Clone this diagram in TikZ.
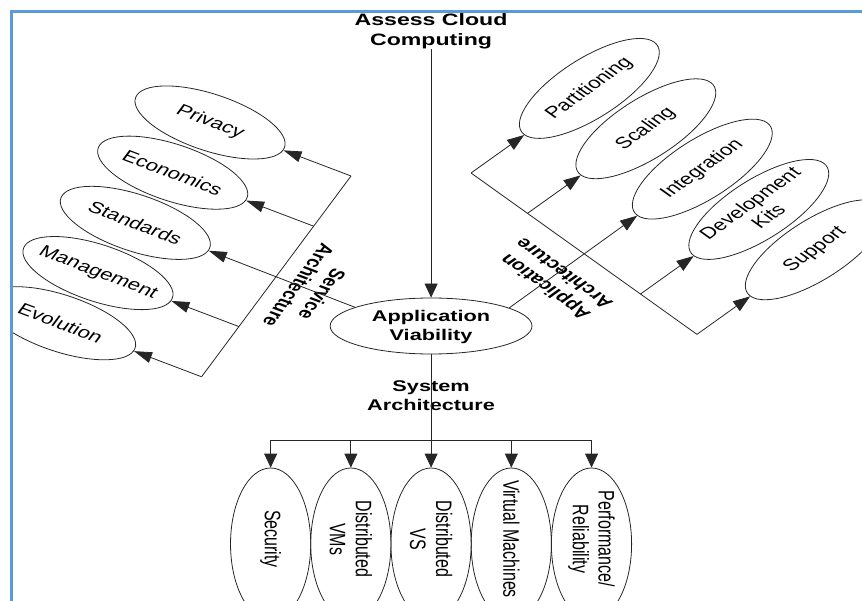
\documentclass[tikz,border=0pt]{standalone}
\usepackage{fontspec}
\setmainfont{Liberation Sans}
\usetikzlibrary{arrows.meta,shapes.geometric}
\definecolor{frameblue}{RGB}{91,155,213}
\begin{document}
\begin{tikzpicture}[x=1pt,y=1pt,xscale=1.4,
  every node/.style={transform shape},
  ln/.style={line width=0.8pt, draw=black!85},
  arrv/.style={ln,-{Triangle[length=14pt,width=13pt]}},
  arrl/.style={ln,-{Triangle[length=18pt,width=11pt]}},
  arrr/.style={ln,-{Triangle[length=17pt,width=12pt]}},
  bt/.style={font=\fontsize{15.5}{19}\selectfont\bfseries, align=center, inner sep=0pt},
  rt/.style={font=\fontsize{16}{18.5}\selectfont, align=center, inner sep=0pt},
  lell/.style={ellipse, draw=black!85, line width=0.8pt, minimum width=118pt, minimum height=54pt, inner sep=0pt},
  rell/.style={ellipse, draw=black!85, line width=0.8pt, minimum width=131pt, minimum height=53pt, inner sep=0pt},
  bell/.style={ellipse, draw=black!85, line width=0.8pt, minimum width=152pt, minimum height=57.3pt, inner sep=0pt},
  aell/.style={ellipse, draw=black!85, line width=0.8pt, minimum width=144.2pt, minimum height=56pt, inner sep=0pt}
]
\useasboundingbox (0,0) rectangle (615.714,-601);
\begin{scope}
\clip (8.6,-12.5) rectangle (615.714,-601);

% top and centre
\node[bt, font=\fontsize{16.5}{20}\selectfont\bfseries] (acc) at (307.9,-31) {Assess Cloud\\Computing};
\node[aell] (av) at (307.9,-326) {};
\node[bt] (avt) at (307.9,-327) {Application\\Viability};
\node[bt] (sa) at (307.9,-396) {System\\Architecture};

% bottom group
\coordinate (c1) at (193.3,-440);
\coordinate (c2) at (250.6,-440);
\coordinate (c4) at (365.2,-440);
\coordinate (c5) at (422.5,-440);
\node[bell, rotate=-90] (b1) at (193.3,-544) {};
\node[bell, rotate=-90] (b2) at (250.6,-544) {};
\node[bell, rotate=-90] (b3) at (307.9,-544) {};
\node[bell, rotate=-90] (b4) at (365.2,-544) {};
\node[bell, rotate=-90] (b5) at (422.5,-544) {};
\node[rt, rotate=-90] (tb1) at (193.3,-539) {Security};
\node[rt, rotate=-90] (tb2) at (250.6,-539) {Distributed\\VMs};
\node[rt, rotate=-90] (tb3) at (307.9,-539) {Distributed\\VS};
\node[rt, rotate=-90] (tb4) at (365.2,-539) {Virtual Machines};
\node[rt, rotate=-90] (tb5) at (422.5,-539) {Performance/\\Reliability};

% left group (service architecture)
\begin{scope}[shift={(250.7,-176)}, rotate=-28]
  \coordinate (l0) at (0,0);
  \coordinate (l1) at (0,-56.85);
  \coordinate (l2) at (0,-113.7);
  \coordinate (l3) at (0,-170.55);
  \coordinate (l4) at (0,-227.4);
  \node[lell] (e1) at (-114,0) {};
  \node[lell] (e2) at (-114,-56.85) {};
  \node[lell] (e3) at (-114,-113.7) {};
  \node[lell] (e4) at (-114,-170.55) {};
  \node[lell] (e5) at (-114,-227.4) {};
  \node[rt] (te1) at (-114,0) {Privacy};
  \node[rt] (te2) at (-114,-56.85) {Economics};
  \node[rt] (te3) at (-114,-113.7) {Standards};
  \node[rt] (te4) at (-114,-170.55) {Management};
  \node[rt] (te5) at (-114,-227.4) {Evolution};
  \node[bt, rotate=-90] (lsa) at (28,-114) {Service\\Architecture};
\end{scope}

% right group (application architecture)
\begin{scope}[shift={(336.4,-173)}, rotate=45]
  \coordinate (r0) at (0,0);
  \coordinate (r1) at (0,-57.05);
  \coordinate (r2) at (0,-114.1);
  \coordinate (r3) at (0,-171.15);
  \coordinate (r4) at (0,-228.2);
  \node[rell] (q1) at (119.6,0) {};
  \node[rell] (q2) at (119.6,-57.05) {};
  \node[rell] (q3) at (119.6,-114.1) {};
  \node[rell] (q4) at (119.6,-171.15) {};
  \node[rell] (q5) at (119.6,-228.2) {};
  \node[rt] (tq1) at (119.6,0) {Partitioning};
  \node[rt] (tq2) at (119.6,-57.05) {Scaling};
  \node[rt] (tq3) at (119.6,-114.1) {Integration};
  \node[rt] (tq4) at (119.6,-171.15) {Development\\Kits};
  \node[rt] (tq5) at (119.6,-228.2) {Support};
  \node[bt, rotate=90] (ras) at (-34,-118) {Application\\Architecture};
\end{scope}

% connectors
\draw[arrv] (acc.south) -- (av.north);
\draw[arrv] (av.south) -- (b3.west);
\draw[ln] (c1) -- (c5);
\draw[arrv] (c1) -- (b1.west);
\draw[arrv] (c2) -- (b2.west);
\draw[arrv] (c4) -- (b4.west);
\draw[arrv] (c5) -- (b5.west);

\draw[ln] (l0) -- (l4);
\draw[arrl] (l0) -- (e1.east);
\draw[arrl] (l1) -- (e2.east);
\draw[arrl] (av.161) -- (e3.east);
\draw[arrl] (l3) -- (e4.east);
\draw[arrl] (l4) -- (e5.east);

\draw[ln] (r0) -- (r4);
\draw[arrr] (r0) -- (q1.west);
\draw[arrr] (r1) -- (q2.west);
\draw[arrr] (av.18) -- (q3.west);
\draw[arrr] (r3) -- (q4.west);
\draw[arrr] (r4) -- (q5.west);
\end{scope}

% frame
\draw[frameblue, line width=2.6pt] (8.1,-601) -- (8.1,-11.8) -- (615.714,-11.8);
\end{tikzpicture}
\end{document}
